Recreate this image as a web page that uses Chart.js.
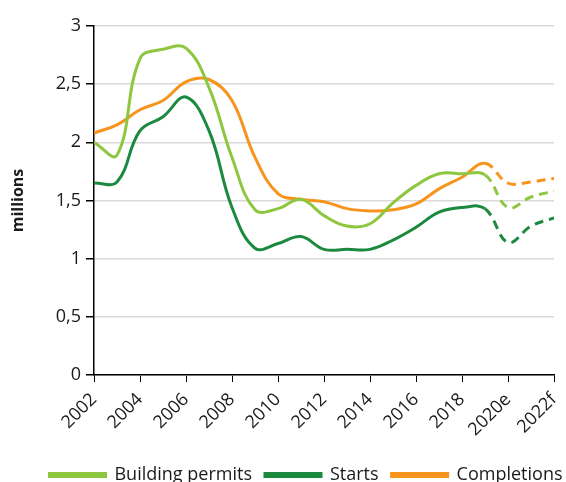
<!DOCTYPE html>
<html>
<head>
<meta charset="utf-8">
<script src="https://cdn.jsdelivr.net/npm/chart.js@4"></script>
<style>
  html, body { margin:0; padding:0; background:#fff; overflow:hidden; }
  #wrap { width:566px; height:482px; position:relative; }
</style>
</head>
<body>
<div id="wrap"><canvas id="chart"></canvas></div>
<script>
// years and series (millions)
const years = [2002,2003,2004,2005,2006,2007,2008,2009,2010,2011,2012,2013,2014,2015,2016,2017,2018,2019,2020,2021,2022];
const permits = [2.00,1.89,2.72,2.80,2.81,2.47,1.87,1.42,1.43,1.51,1.37,1.28,1.30,1.48,1.63,1.73,1.73,1.72,1.44,1.53,1.58];
const starts = [1.65,1.66,2.10,2.22,2.39,2.10,1.44,1.09,1.13,1.19,1.08,1.08,1.08,1.16,1.27,1.40,1.44,1.43,1.14,1.28,1.35];
const completions = [2.08,2.15,2.28,2.36,2.52,2.54,2.36,1.87,1.56,1.51,1.49,1.43,1.41,1.42,1.47,1.60,1.70,1.82,1.65,1.66,1.69];
const yTicks = ['0','0,5','1','1,5','2','2,5','3'];
const forecastFrom = 2019;

const pts = arr => arr.map((v, i) => ({ x: years[i], y: v }));
const dashed = ctx => ctx.p0.parsed.x >= forecastFrom ? [9, 6] : undefined;

function series(label, data, color) {
  return {
    label, data: pts(data), borderColor: color, backgroundColor: color,
    borderWidth: 3, pointRadius: 0, tension: 0.4, fill: false,
    segment: { borderDash: dashed }
  };
}

// legend sits off-centre and low in the original
const legendShift = {
  id: 'legendShift',
  afterLayout(chart) {
    const l = chart.legend, dx = 29, dy = 12;
    l.left += dx; l.right += dx; l.top += dy; l.bottom += dy;
  }
};

const font = { family: 'Open Sans', size: 18 };

new Chart(document.getElementById('chart'), {
  type: 'line',
  data: { datasets: [
    series('Building permits', permits, '#8DC63F'),
    series('Starts', starts, '#1B8A3E'),
    series('Completions', completions, '#F7941D')
  ]},
  plugins: [legendShift],
  options: {
    responsive: true, maintainAspectRatio: false, animation: false,
    layout: { padding: { top: 26, right: 12, left: 0, bottom: 0 } },
    plugins: {
      tooltip: { enabled: false },
      legend: {
        position: 'bottom',
        labels: { boxWidth: 56, boxHeight: 3, color: '#1a1a1a', padding: 13, font }
      }
    },
    scales: {
      x: {
        type: 'linear', min: 2002, max: 2022,
        afterFit: s => { s.paddingLeft = 0; s.paddingRight = 0; s.height = 66; },
        grid: { drawOnChartArea: false, drawTicks: true, tickLength: 7, color: '#000' },
        border: { display: true, color: '#000', width: 1.5 },
        ticks: {
          stepSize: 2, color: '#1a1a1a', minRotation: 45, maxRotation: 45, padding: 7, font,
          callback: v => v === 2020 ? '2020e' : v === 2022 ? '2022f' : String(v)
        }
      },
      y: {
        min: 0, max: 3,
        afterFit: s => { s.width = 94; },
        grid: { color: '#D9D9D9', lineWidth: 1.5, tickLength: 8, tickColor: '#000' },
        border: { display: true, color: '#000', width: 1.5 },
        ticks: { stepSize: 0.5, color: '#1a1a1a', padding: 5, font,
                 callback: (v, i) => yTicks[i] },
        title: { display: true, text: 'millions', color: '#1a1a1a',
                 padding: { top: 9, bottom: 24 },
                 font: { family: 'Open Sans', size: 16, weight: 'bold' } }
      }
    }
  }
});
</script>
</body>
</html>
